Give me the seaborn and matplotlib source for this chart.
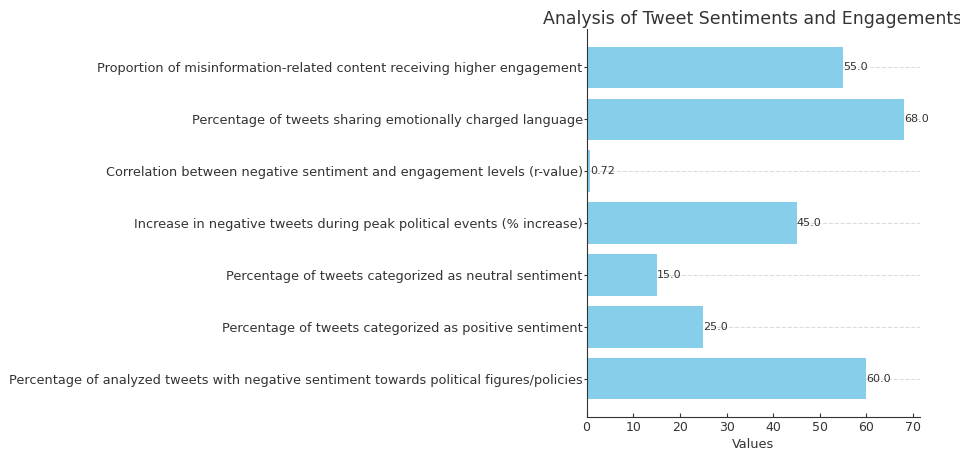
import matplotlib
matplotlib.use("Agg")
import matplotlib.pyplot as plt
import seaborn as sns
import pandas as pd

categories = [
    "Proportion of misinformation-related content receiving higher engagement",
    "Percentage of tweets sharing emotionally charged language",
    "Correlation between negative sentiment and engagement levels (r-value)",
    "Increase in negative tweets during peak political events (% increase)",
    "Percentage of tweets categorized as neutral sentiment",
    "Percentage of tweets categorized as positive sentiment",
    "Percentage of analyzed tweets with negative sentiment towards political figures/policies",
]
values = [55.0, 68.0, 0.72, 45.0, 15.0, 25.0, 60.0]
x_ticks = [0, 10, 20, 30, 40, 50, 60, 70]

df = pd.DataFrame({"Metric": categories, "Value": values})

plt.rcParams["font.family"] = ["DejaVu Sans"]
plt.rcParams["text.color"] = "#333333"
plt.rcParams["xtick.color"] = "#333333"
plt.rcParams["ytick.color"] = "#333333"
plt.rcParams["axes.labelcolor"] = "#333333"

fig = plt.figure(figsize=(9.6, 4.55), dpi=100)
ax = fig.add_axes([0.611, 0.0835, 0.347, 0.8525])

sns.barplot(data=df, x="Value", y="Metric", color="#87CEEB", saturation=1,
            orient="h", width=0.8, ax=ax, zorder=2)

for cont in ax.containers:
    ax.bar_label(cont, labels=[str(v) for v in values], padding=0,
                 fontsize=8, color="#333333")

n = len(categories)
ax.set_ylim(n - 1 + 0.74, -0.74)
ax.set_xlim(0, max(values) * 1.05)
ax.set_xticks(x_ticks)
ax.yaxis.grid(True, linestyle="--", color="#cccccc", alpha=0.7, zorder=0)
ax.xaxis.grid(False)
ax.set_axisbelow(True)
ax.set_ylabel("")
ax.set_xlabel("Values", fontsize=9.3, labelpad=2.5)
ax.set_title("Analysis of Tweet Sentiments and Engagements", fontsize=12.5, pad=4)
ax.tick_params(axis="y", labelsize=9.3, length=2.2, pad=0.6)
ax.tick_params(axis="x", labelsize=9, direction="in", length=3, pad=3)
for s in ["top", "right"]:
    ax.spines[s].set_visible(False)
for s in ["left", "bottom"]:
    ax.spines[s].set_color("#333333")

fig.savefig("out.png", dpi=100)
